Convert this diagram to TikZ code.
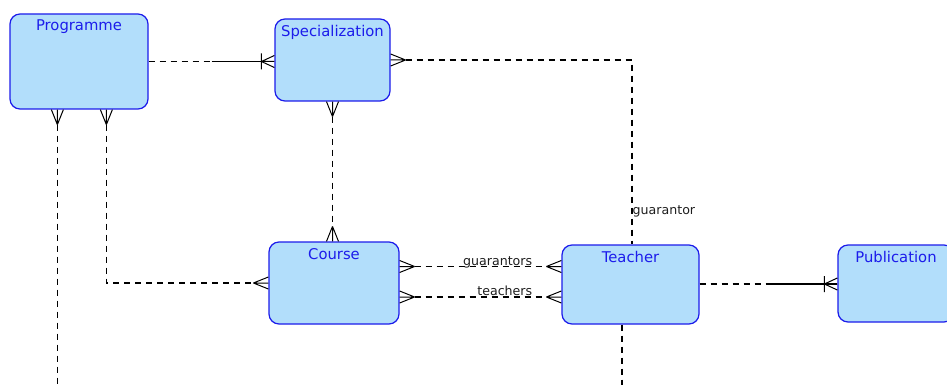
\documentclass[tikz,border=0pt]{standalone}
\usepackage{fontspec}
\setmainfont{DejaVu Sans}
\usetikzlibrary{calc}
\definecolor{eblue}{RGB}{28,28,235}
\definecolor{efill}{RGB}{178,222,251}
\definecolor{ltext}{RGB}{30,30,30}
\tikzset{
  entity/.style={draw=eblue, fill=efill, rounded corners=10pt, line width=1.25pt, inner sep=0pt},
  etitle/.style={text=eblue, font=\fontsize{14.8}{16}\selectfont, anchor=north, inner sep=0pt, yshift=-6.5pt},
  rel/.style={draw=black, line width=1.05pt, dash pattern=on 6pt off 5pt},
  solidrel/.style={draw=black, line width=1.05pt},
  lbl/.style={font=\fontsize{12.6}{14}\selectfont, text=ltext, inner sep=0pt},
  crow/.pic={\draw[line width=1pt] (-15,0) -- (0,6) (-15,0) -- (0,0) (-15,0) -- (0,-6);},
  crowbar/.pic={\draw[line width=1pt] (-13,0) -- (0,6) (-13,0) -- (0,0) (-13,0) -- (0,-6) (-13,-8) -- (-13,8);},
}
\begin{document}
\begin{tikzpicture}[x=1pt,y=-1pt]
\useasboundingbox[fill=white] (0,0) rectangle (947,385);

% entities
\node[entity, minimum width=138pt, minimum height=95pt] (prog) at (79,61.5) {};
\node[etitle] (progT) at (prog.north) {Programme};
\node[entity, minimum width=115pt, minimum height=82pt] (spec) at (332.5,60) {};
\node[etitle] (specT) at (spec.north) {Specialization};
\node[entity, minimum width=130pt, minimum height=82pt] (course) at (334,283) {};
\node[etitle] (courseT) at (course.north) {Course};
\node[entity, minimum width=137pt, minimum height=79pt] (teacher) at (630.5,284.5) {};
\node[etitle] (teacherT) at (teacher.north) {Teacher};
\node[entity, minimum width=116pt, minimum height=77pt] (pub) at (896,283.5) {};
\node[etitle] (pubT) at (pub.north) {Publication};

% helper coordinates
\coordinate (ps) at ($(prog.east)!0.5!(prog.east -| spec.west)$);
\coordinate (pA) at ($(prog.south west)+(48,0)$);
\coordinate (pB) at ($(prog.south west)+(97,0)$);
\coordinate (pAend) at (pA |- 0,385);
\coordinate (tBot) at ($(teacher.south)+(-8.5,0)$);
\coordinate (tBotEnd) at (tBot |- 0,385);
\coordinate (cg) at ($(course.east)+(0,-16.5)$);
\coordinate (ct) at ($(course.east)+(0,14)$);
\coordinate (tp) at ($(teacher.east)+(0,-0.5)$);
\coordinate (tpm) at ($(tp)!0.5!(tp -| pub.west)$);
\coordinate (st) at ($(spec.east -| teacher.north)+(1.5,0)$);
\coordinate (tn) at ($(teacher.north)+(1.5,0)$);

% Programme -> Specialization
\draw[rel] (prog.east) -- (ps);
\draw[solidrel] (ps) -- (ps -| spec.west);
\pic at (ps -| spec.west) {crowbar};

% Specialization -> Teacher (guarantor)
\pic[rotate=180] at (spec.east) {crow};
\draw[rel] ($(spec.east)+(15,0)$) -- (st) -- (tn);
\node[lbl, anchor=west] (lg) at ($(st)!0.82!(tn)+(0.5,0)$) {guarantor};

% Specialization -> Course
\pic[rotate=90] at (spec.south) {crow};
\pic[rotate=-90] at (spec.south |- course.north) {crow};
\draw[rel] ($(spec.south)+(0,15)$) -- ($(spec.south |- course.north)+(0,-15)$);

% Programme down (free end)
\pic[rotate=90] at (pA) {crow};
\draw[rel] ($(pA)+(0,15)$) -- (pAend);

% Programme -> Course
\pic[rotate=90] at (pB) {crow};
\pic at (course.west) {crow};
\draw[rel] ($(pB)+(0,15)$) -- (pB |- course.west) -- ($(course.west)+(-15,0)$);

% Course -> Teacher (guarantors)
\pic[rotate=180] at (cg) {crow};
\pic at (cg -| teacher.west) {crow};
\draw[rel] ($(cg)+(15,0)$) -- ($(cg -| teacher.west)+(-15,0)$);
\node[lbl, anchor=base east] (lgs) at ($(cg -| teacher.west)+(-29,-1.5)$) {guarantors};

% Course -> Teacher (teachers)
\pic[rotate=180] at (ct) {crow};
\pic at (ct -| teacher.west) {crow};
\draw[rel] ($(ct)+(15,0)$) -- ($(ct -| teacher.west)+(-15,0)$);
\node[lbl, anchor=base east] (lt) at ($(ct -| teacher.west)+(-29,-1.5)$) {teachers};

% Teacher -> Publication
\draw[rel] (tp) -- (tpm);
\draw[solidrel] (tpm) -- (tpm -| pub.west);
\pic at (tpm -| pub.west) {crowbar};

% Teacher down (free end)
\draw[rel] (tBot) -- (tBotEnd);
\end{tikzpicture}
\end{document}
